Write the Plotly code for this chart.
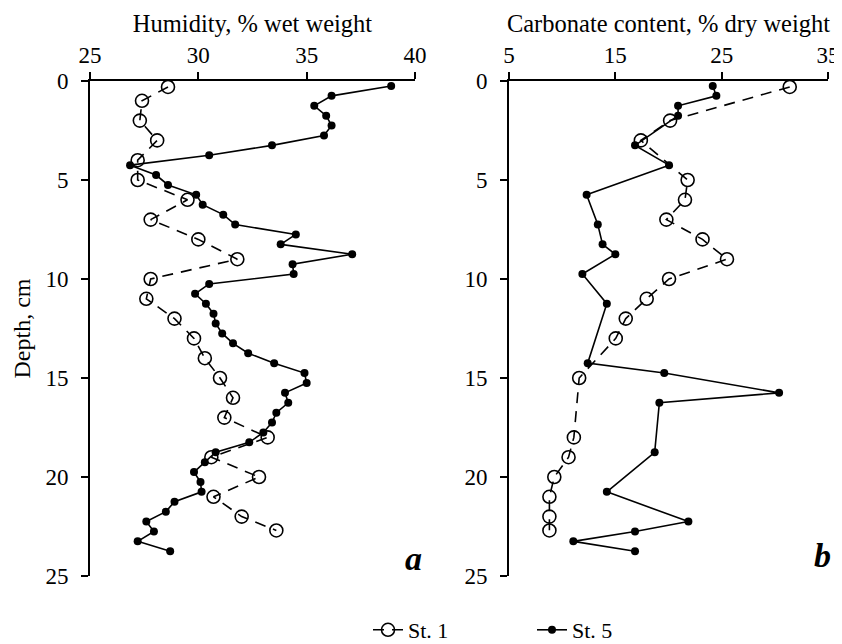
import plotly.graph_objects as go

# ---- Panel a: Humidity, % wet weight ----
hum_st1_depth = [0.3, 1, 2, 3, 4, 5, 6, 7, 8, 9, 10, 11, 12, 13, 14, 15, 16, 17, 18, 19, 20, 21, 22, 22.7]
hum_st1 = [28.6, 27.4, 27.3, 28.1, 27.2, 27.2, 29.5, 27.8, 30.0, 31.8, 27.8, 27.6, 28.9, 29.8, 30.3, 31.0,
           31.6, 31.2, 33.2, 30.6, 32.8, 30.7, 32.0, 33.6]

hum_st5_depth = [0.25, 0.75, 1.25, 1.75, 2.25, 2.75, 3.25, 3.75, 4.25, 4.75, 5.25, 5.75, 6.25, 6.75, 7.25, 7.75,
                 8.25, 8.75, 9.25, 9.75, 10.25, 10.75, 11.25, 11.75, 12.25, 12.75, 13.25, 13.75, 14.25, 14.75,
                 15.25, 15.75, 16.25, 16.75, 17.25, 17.75, 18.25, 18.75, 19.25, 19.75, 20.25, 20.75, 21.25,
                 21.75, 22.25, 22.75, 23.25, 23.75]
hum_st5 = [38.9, 36.15, 35.35, 35.9, 36.15, 35.8, 33.4, 30.5, 26.85, 28.05, 28.6, 29.9, 30.2, 31.15, 31.7, 34.5,
           33.8, 37.1, 34.35, 34.4, 30.5, 29.85, 30.35, 30.7, 30.8, 31.1, 31.6, 32.3, 33.5, 34.9,
           35.0, 34.0, 34.15, 33.6, 33.4, 33.0, 32.35, 30.8, 30.3, 29.8, 30.1, 30.15, 28.9,
           28.5, 27.6, 27.95, 27.2, 28.7]

# ---- Panel b: Carbonate content, % dry weight ----
carb_st1_depth = [0.3, 2, 3, 5, 6, 7, 8, 9, 10, 11, 12, 13, 15, 18, 19, 20, 21, 22, 22.7]
carb_st1 = [31.4, 20.15, 17.4, 21.8, 21.55, 19.8, 23.2, 25.5, 20.05, 17.95, 15.98, 15.04, 11.6, 11.1,
            10.6, 9.26, 8.8, 8.8, 8.8]

carb_st5_depth = [0.25, 0.75, 1.25, 1.75, 3.25, 4.25, 5.75, 7.25, 8.25, 8.75, 9.75, 11.25, 14.25, 14.75,
                  15.75, 16.25, 18.75, 20.75, 22.25, 22.75, 23.25, 23.75]
carb_st5 = [24.16, 24.5, 20.9, 20.9, 16.85, 20.05, 12.3, 13.35, 13.8, 15.0, 11.9, 14.2, 12.4, 19.6,
            30.4, 19.14, 18.7, 14.2, 21.87, 16.85, 11.05, 16.85]

series_names = ["St. 1", "St. 5"]
depth_ticks = [0, 5, 10, 15, 20, 25]
hum_ticks = [25, 30, 35, 40]
carb_ticks = [5, 15, 25, 35]

FONT = "Liberation Serif, Times New Roman, serif"

fig = go.Figure()

st1_style = dict(mode="lines+markers",
                 line=dict(color="black", width=1.6, dash="11px,8px"),
                 marker=dict(symbol="circle-open", size=13, color="black", line=dict(width=1.6)))
st5_style = dict(mode="lines+markers",
                 line=dict(color="black", width=1.6),
                 marker=dict(symbol="circle", size=8, color="black"))

fig.add_trace(go.Scatter(x=hum_st1, y=hum_st1_depth, name=series_names[0], xaxis="x", yaxis="y",
                         legendgroup="s1", showlegend=True, **st1_style))
fig.add_trace(go.Scatter(x=hum_st5, y=hum_st5_depth, name=series_names[1], xaxis="x", yaxis="y",
                         legendgroup="s5", showlegend=True, **st5_style))
fig.add_trace(go.Scatter(x=carb_st1, y=carb_st1_depth, name=series_names[0], xaxis="x2", yaxis="y2",
                         legendgroup="s1", showlegend=False, **st1_style))
fig.add_trace(go.Scatter(x=carb_st5, y=carb_st5_depth, name=series_names[1], xaxis="x2", yaxis="y2",
                         legendgroup="s5", showlegend=False, **st5_style))

axis_common = dict(showline=True, linecolor="black", linewidth=2, ticks="outside", ticklen=7,
                   tickwidth=2, tickcolor="black", showgrid=False, zeroline=False, automargin=False,
                   ticklabeloverflow="allow",
                   tickfont=dict(family=FONT, size=23, color="black"))

# page is offset by the 8px default body margin; work in figure coordinates
OFF = 8
W, H = 842 - OFF, 644 - OFF
L, T = 90 - OFF, 81 - OFF
R = W - (828 - OFF)
B = H - (576 - OFF)
pw = W - L - R
ph = H - T - B

fig.update_layout(
    template="none",
    width=W, height=H,
    margin=dict(l=L, r=R, t=T, b=B, autoexpand=False),
    plot_bgcolor="white", paper_bgcolor="white",
    font=dict(family=FONT, size=22, color="black"),
    xaxis=dict(domain=[0, 325 / pw], side="top", range=[25, 40], tickvals=hum_ticks, anchor="y",
               title=dict(text="Humidity, % wet weight", font=dict(family=FONT, size=24.5), standoff=3),
               **axis_common),
    yaxis=dict(domain=[0, 1], range=[25, 0], tickvals=depth_ticks, anchor="x",
               title=dict(text="Depth, cm", font=dict(family=FONT, size=24), standoff=8),
               ticklabelstandoff=8, **axis_common),
    xaxis2=dict(domain=[(509 - 90) / pw, 1], side="top", range=[5, 35], tickvals=carb_ticks, anchor="y2",
                title=dict(text="Carbonate content, % dry weight", font=dict(family=FONT, size=24.5), standoff=3),
                **axis_common),
    yaxis2=dict(domain=[0, 1], range=[25, 0], tickvals=depth_ticks, anchor="x2",
                ticklabelstandoff=8, **axis_common),
    legend=dict(orientation="h", xref="container", yref="container",
                x=(368 - OFF) / W, xanchor="left", y=1 - (630 - OFF) / H,
                yanchor="middle", font=dict(family=FONT, size=22), entrywidth=119,
                entrywidthmode="pixels", bgcolor="rgba(0,0,0,0)"),
    annotations=[
        dict(text="<b><i>a</i></b>", xref="paper", yref="paper", x=(413 - 90) / pw, y=(576 - 558) / ph,
             showarrow=False, font=dict(family=FONT, size=34, color="black"), xanchor="center", yanchor="middle"),
        dict(text="<b><i>b</i></b>", xref="paper", yref="paper", x=(822 - 90) / pw, y=(576 - 555) / ph,
             showarrow=False, font=dict(family=FONT, size=34, color="black"), xanchor="center", yanchor="middle"),
    ],
)

fig.write_html("out.html")
